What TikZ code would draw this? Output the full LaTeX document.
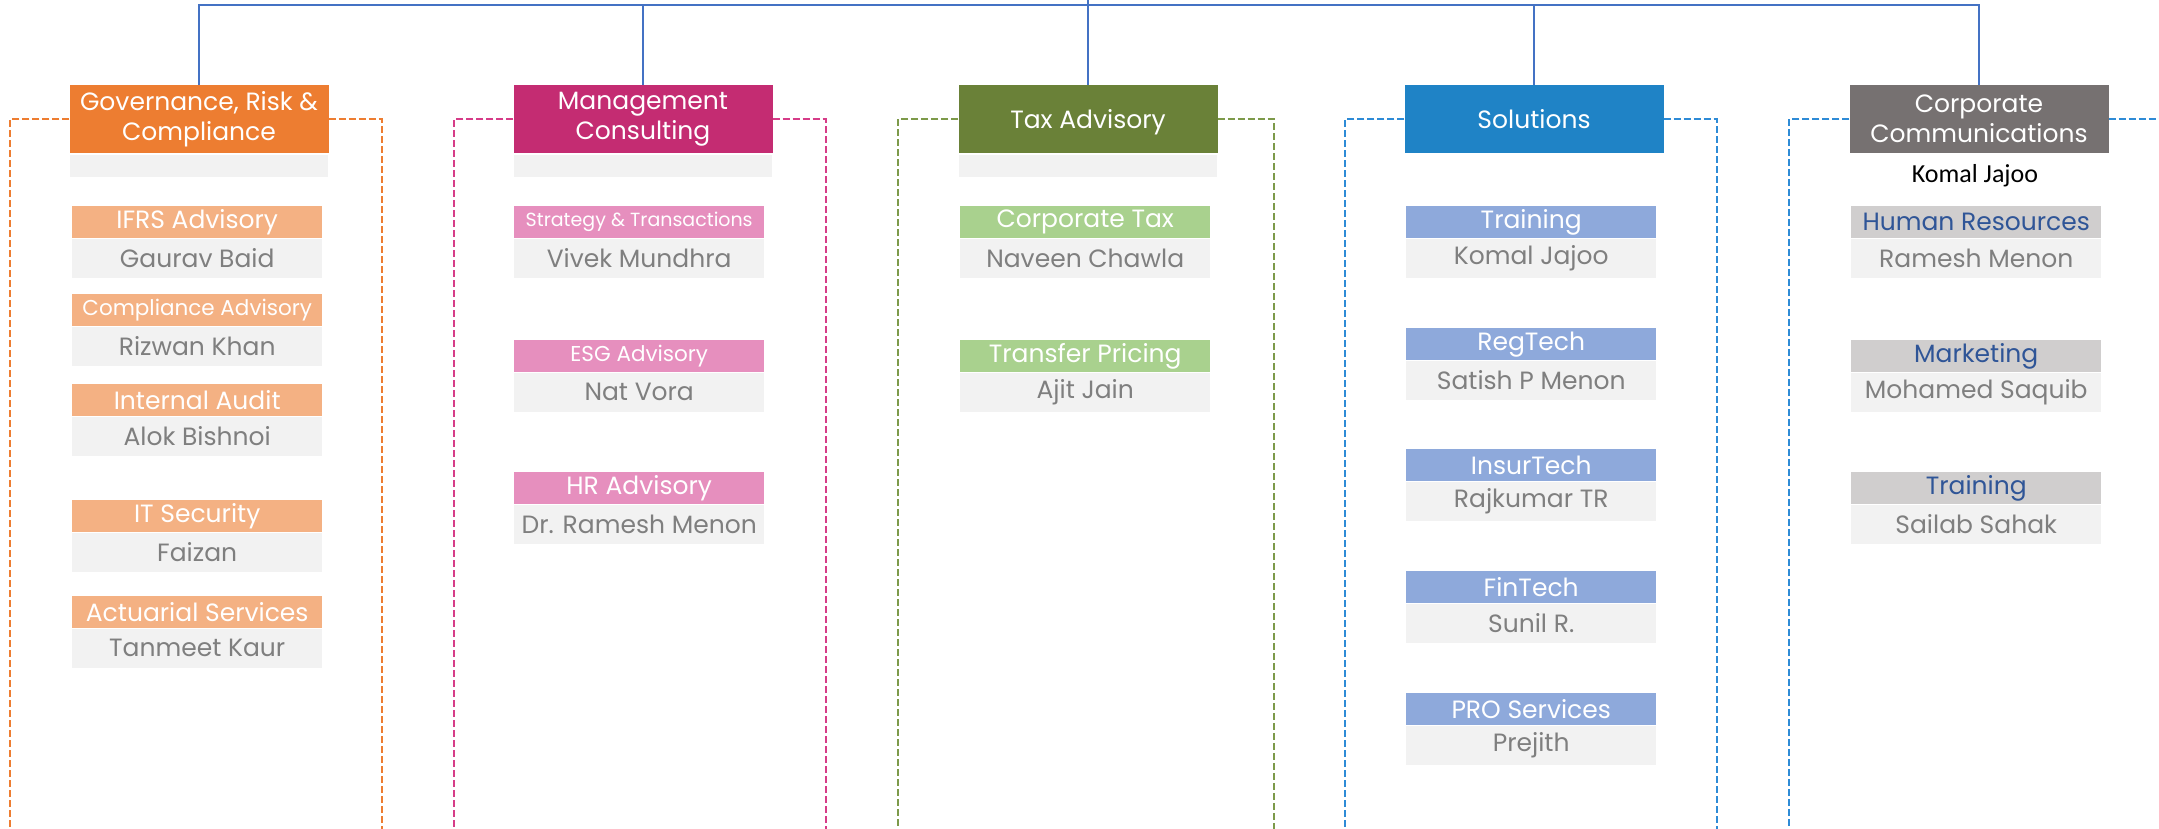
\documentclass[tikz,border=0pt]{standalone}
\usepackage{fontspec}
\setmainfont{Poppins}
\newfontfamily\notefont{Carlito}
\definecolor{govc}{HTML}{ED7D31}
\definecolor{govs}{HTML}{F4B183}
\definecolor{mgmc}{HTML}{C42C72}
\definecolor{mgms}{HTML}{E68FBE}
\definecolor{mgmd}{HTML}{D63C88}
\definecolor{taxc}{HTML}{6A8138}
\definecolor{taxs}{HTML}{A9D18E}
\definecolor{taxd}{HTML}{7D9A4A}
\definecolor{solc}{HTML}{1F83C6}
\definecolor{sols}{HTML}{8EA9DB}
\definecolor{sold}{HTML}{2E8BD6}
\definecolor{corc}{HTML}{767171}
\definecolor{cors}{HTML}{D0CECE}
\definecolor{cort}{HTML}{2F5597}
\definecolor{busc}{HTML}{4472C4}
\definecolor{namebg}{HTML}{F2F2F2}
\definecolor{namefg}{HTML}{7F7F7F}
\tikzset{
  hdr/.style={rectangle, minimum width=259pt, minimum height=68pt, inner sep=0pt,
    text=white, align=center, font=\fontsize{25}{30}\selectfont},
  bar/.style={rectangle, fill=namebg, minimum width=258pt, minimum height=22pt, inner sep=0pt},
  subhdr/.style={rectangle, minimum width=250pt, minimum height=32pt, inner sep=0pt,
    text=white, font=\fontsize{25}{27}\selectfont},
  subname/.style={rectangle, fill=namebg, minimum width=250pt, minimum height=39pt, inner sep=0pt,
    text=namefg, font=\fontsize{25}{27}\selectfont},
  bus/.style={draw=busc, line width=2pt},
  bracket/.style={line width=2pt, dash pattern=on 7pt off 3pt},
}
% one unit: a coloured heading strip with the person's name below it
\newcommand\subunit[7]{%
  \node[subhdr, fill=#4, text=#5, anchor=north west] (#1h) at (#2,#3) {#6};
  \node[subname, anchor=north] (#1n) at (#1h.south) {#7};
}
\begin{document}
\begin{tikzpicture}[x=1pt,y=-1pt]
\useasboundingbox (0,0) rectangle (2159,828);
\clip (0,0) rectangle (2159,828);

% department headings
\node[hdr, fill=govc] (gov) at (199,119) {Governance, Risk \&\\Compliance};
\node[hdr, fill=mgmc] (mgm) at (643,119) {Management\\Consulting};
\node[hdr, fill=taxc, text depth=0pt] (tax) at (1088,119) {Tax Advisory};
\node[hdr, fill=solc, text depth=0pt] (sol) at (1534,119) {Solutions};
\node[hdr, fill=corc] (cor) at (1979,119) {Corporate\\Communications};

% empty name strips under the headings
\node[bar, anchor=north] (govbar) at (199,155) {};
\node[bar, anchor=north] (mgmbar) at (643,155) {};
\node[bar, anchor=north] (taxbar) at (1088,155) {};
\node[font=\notefont\fontsize{26}{28}\selectfont, text=black] (corhead) at (1975,176) {Komal Jajoo};

% bus linking the departments
\coordinate (bus) at (1088,5);
\coordinate (up) at (1088,-5);
\draw[bus] (gov.north) -- (gov.north |- bus) -- (cor.north |- bus) -- (cor.north);
\draw[bus] (mgm.north) -- (mgm.north |- bus);
\draw[bus] (sol.north) -- (sol.north |- bus);
\draw[bus] (tax.north) -- (up);

% dashed brackets round each department
\draw[bracket, draw=govc] (gov.west) -| ++(-59,760);
\draw[bracket, draw=govc] (gov.east) -| ++(53,760);
\draw[bracket, draw=mgmd] (mgm.west) -| ++(-59,760);
\draw[bracket, draw=mgmd] (mgm.east) -| ++(53,760);
\draw[bracket, draw=taxd] (tax.west) -| ++(-60,760);
\draw[bracket, draw=taxd] (tax.east) -| ++(56,760);
\draw[bracket, draw=sold] (sol.west) -| ++(-59,760);
\draw[bracket, draw=sold] (sol.east) -| ++(53,760);
\draw[bracket, draw=sold] (cor.west) -| ++(-60,760);
\draw[bracket, draw=sold] (cor.east) -| ++(55,760);

% Governance, Risk & Compliance
\subunit{ifrs}{72}{206}{govs}{white}{IFRS Advisory}{Gaurav Baid}
\subunit{comp}{72}{294}{govs}{white}{\fontsize{21.5}{23}\selectfont Compliance Advisory}{Rizwan Khan}
\subunit{audit}{72}{384}{govs}{white}{Internal Audit}{Alok Bishnoi}
\subunit{itsec}{72}{500}{govs}{white}{IT Security}{Faizan}
\subunit{actu}{72}{596}{govs}{white}{Actuarial Services}{Tanmeet Kaur}

% Management Consulting
\subunit{strat}{514}{206}{mgms}{white}{\fontsize{19}{21}\selectfont Strategy \& Transactions}{Vivek Mundhra}
\subunit{esg}{514}{340}{mgms}{white}{\fontsize{21.5}{23}\selectfont ESG Advisory}{Nat Vora}
\subunit{hradv}{514}{472}{mgms}{white}{HR Advisory}{Dr. Ramesh Menon}

% Tax Advisory
\subunit{ctax}{960}{206}{taxs}{white}{Corporate Tax}{Naveen Chawla}
\subunit{tp}{960}{340}{taxs}{white}{Transfer Pricing}{Ajit Jain}

% Solutions
\subunit{strain}{1406}{206}{sols}{white}{Training}{Komal Jajoo}
\subunit{reg}{1406}{328}{sols}{white}{RegTech}{Satish P Menon}
\subunit{insur}{1406}{449}{sols}{white}{InsurTech}{Rajkumar TR}
\subunit{fin}{1406}{571}{sols}{white}{FinTech}{Sunil R.}
\subunit{pro}{1406}{693}{sols}{white}{PRO Services}{Prejith}

% Corporate Communications
\subunit{hr}{1851}{206}{cors}{cort}{Human Resources}{Ramesh Menon}
\subunit{mkt}{1851}{340}{cors}{cort}{Marketing}{Mohamed Saquib}
\subunit{ctrain}{1851}{472}{cors}{cort}{Training}{Sailab Sahak}
\end{tikzpicture}
\end{document}
